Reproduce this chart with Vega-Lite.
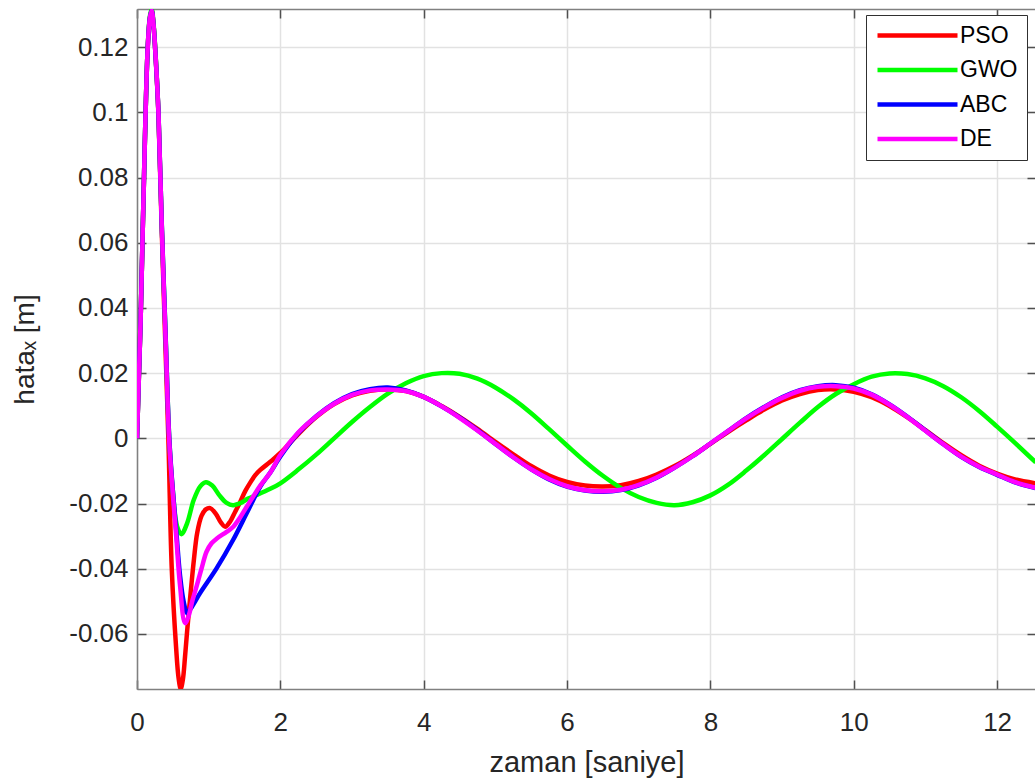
{
  "$schema": "https://vega.github.io/schema/vega-lite/v6.json",
  "autosize": "none",
  "width": 899,
  "height": 680,
  "padding": {"left": 137, "top": 9, "right": 0, "bottom": 95},
  "background": "white",
  "view": {"stroke": null},
  "datasets": {
    "d": [
      {"zaman":0,"hata":0,"yontem":"PSO"},{"zaman":0.025,"hata":0.018,"yontem":"PSO"},{"zaman":0.05,"hata":0.036,"yontem":"PSO"},{"zaman":0.08,"hata":0.064,"yontem":"PSO"},{"zaman":0.1,"hata":0.082,"yontem":"PSO"},{"zaman":0.12,"hata":0.1,"yontem":"PSO"},{"zaman":0.15,"hata":0.12,"yontem":"PSO"},{"zaman":0.18,"hata":0.129,"yontem":"PSO"},{"zaman":0.205,"hata":0.1312,"yontem":"PSO"},{"zaman":0.23,"hata":0.127,"yontem":"PSO"},{"zaman":0.26,"hata":0.117,"yontem":"PSO"},{"zaman":0.3,"hata":0.099,"yontem":"PSO"},{"zaman":0.345,"hata":0.064,"yontem":"PSO"},{"zaman":0.4,"hata":0.026,"yontem":"PSO"},{"zaman":0.44,"hata":-0.002,"yontem":"PSO"},{"zaman":0.485,"hata":-0.04,"yontem":"PSO"},{"zaman":0.545,"hata":-0.064,"yontem":"PSO"},{"zaman":0.58,"hata":-0.0735,"yontem":"PSO"},{"zaman":0.61,"hata":-0.0768,"yontem":"PSO"},{"zaman":0.64,"hata":-0.074,"yontem":"PSO"},{"zaman":0.67,"hata":-0.067,"yontem":"PSO"},{"zaman":0.7,"hata":-0.059,"yontem":"PSO"},{"zaman":0.75,"hata":-0.047,"yontem":"PSO"},{"zaman":0.795,"hata":-0.037,"yontem":"PSO"},{"zaman":0.84,"hata":-0.029,"yontem":"PSO"},{"zaman":0.9,"hata":-0.0238,"yontem":"PSO"},{"zaman":0.96,"hata":-0.0218,"yontem":"PSO"},{"zaman":1.02,"hata":-0.0214,"yontem":"PSO"},{"zaman":1.1,"hata":-0.0232,"yontem":"PSO"},{"zaman":1.17,"hata":-0.0258,"yontem":"PSO"},{"zaman":1.23,"hata":-0.0271,"yontem":"PSO"},{"zaman":1.3,"hata":-0.0255,"yontem":"PSO"},{"zaman":1.37,"hata":-0.0225,"yontem":"PSO"},{"zaman":1.44,"hata":-0.0195,"yontem":"PSO"},{"zaman":1.51,"hata":-0.0162,"yontem":"PSO"},{"zaman":1.58,"hata":-0.0136,"yontem":"PSO"},{"zaman":1.65,"hata":-0.0113,"yontem":"PSO"},{"zaman":1.72,"hata":-0.0097,"yontem":"PSO"},{"zaman":1.86,"hata":-0.0072,"yontem":"PSO"},{"zaman":2.0,"hata":-0.0045,"yontem":"PSO"},{"zaman":2.25,"hata":0.0013,"yontem":"PSO"},{"zaman":2.5,"hata":0.0065,"yontem":"PSO"},{"zaman":2.75,"hata":0.0105,"yontem":"PSO"},{"zaman":3.0,"hata":0.0132,"yontem":"PSO"},{"zaman":3.25,"hata":0.0146,"yontem":"PSO"},{"zaman":3.5,"hata":0.015,"yontem":"PSO"},{"zaman":3.75,"hata":0.0145,"yontem":"PSO"},{"zaman":4.0,"hata":0.0127,"yontem":"PSO"},{"zaman":4.25,"hata":0.0099,"yontem":"PSO"},{"zaman":4.5,"hata":0.0066,"yontem":"PSO"},{"zaman":4.75,"hata":0.0029,"yontem":"PSO"},{"zaman":5.0,"hata":-0.0011,"yontem":"PSO"},{"zaman":5.25,"hata":-0.0049,"yontem":"PSO"},{"zaman":5.5,"hata":-0.0085,"yontem":"PSO"},{"zaman":5.75,"hata":-0.0114,"yontem":"PSO"},{"zaman":6.0,"hata":-0.0134,"yontem":"PSO"},{"zaman":6.25,"hata":-0.0145,"yontem":"PSO"},{"zaman":6.5,"hata":-0.0148,"yontem":"PSO"},{"zaman":6.75,"hata":-0.0144,"yontem":"PSO"},{"zaman":7.0,"hata":-0.0131,"yontem":"PSO"},{"zaman":7.25,"hata":-0.0111,"yontem":"PSO"},{"zaman":7.5,"hata":-0.0085,"yontem":"PSO"},{"zaman":7.75,"hata":-0.0053,"yontem":"PSO"},{"zaman":8.0,"hata":-0.0017,"yontem":"PSO"},{"zaman":8.25,"hata":0.002,"yontem":"PSO"},{"zaman":8.5,"hata":0.0055,"yontem":"PSO"},{"zaman":8.75,"hata":0.0088,"yontem":"PSO"},{"zaman":9.0,"hata":0.0116,"yontem":"PSO"},{"zaman":9.25,"hata":0.0136,"yontem":"PSO"},{"zaman":9.5,"hata":0.0148,"yontem":"PSO"},{"zaman":9.75,"hata":0.015,"yontem":"PSO"},{"zaman":10.0,"hata":0.0143,"yontem":"PSO"},{"zaman":10.25,"hata":0.0126,"yontem":"PSO"},{"zaman":10.5,"hata":0.0099,"yontem":"PSO"},{"zaman":10.75,"hata":0.0064,"yontem":"PSO"},{"zaman":11.0,"hata":0.0025,"yontem":"PSO"},{"zaman":11.25,"hata":-0.0015,"yontem":"PSO"},{"zaman":11.5,"hata":-0.0052,"yontem":"PSO"},{"zaman":11.75,"hata":-0.0084,"yontem":"PSO"},{"zaman":12.0,"hata":-0.0108,"yontem":"PSO"},{"zaman":12.25,"hata":-0.0126,"yontem":"PSO"},{"zaman":12.54,"hata":-0.0138,"yontem":"PSO"},

      {"zaman":0,"hata":0,"yontem":"GWO"},{"zaman":0.025,"hata":0.018,"yontem":"GWO"},{"zaman":0.05,"hata":0.036,"yontem":"GWO"},{"zaman":0.08,"hata":0.064,"yontem":"GWO"},{"zaman":0.1,"hata":0.082,"yontem":"GWO"},{"zaman":0.12,"hata":0.1,"yontem":"GWO"},{"zaman":0.15,"hata":0.12,"yontem":"GWO"},{"zaman":0.18,"hata":0.1295,"yontem":"GWO"},{"zaman":0.205,"hata":0.1318,"yontem":"GWO"},{"zaman":0.23,"hata":0.1275,"yontem":"GWO"},{"zaman":0.26,"hata":0.1175,"yontem":"GWO"},{"zaman":0.3,"hata":0.0995,"yontem":"GWO"},{"zaman":0.345,"hata":0.066,"yontem":"GWO"},{"zaman":0.4,"hata":0.031,"yontem":"GWO"},{"zaman":0.45,"hata":0.0,"yontem":"GWO"},{"zaman":0.5,"hata":-0.016,"yontem":"GWO"},{"zaman":0.56,"hata":-0.027,"yontem":"GWO"},{"zaman":0.62,"hata":-0.0294,"yontem":"GWO"},{"zaman":0.7,"hata":-0.026,"yontem":"GWO"},{"zaman":0.79,"hata":-0.019,"yontem":"GWO"},{"zaman":0.88,"hata":-0.0148,"yontem":"GWO"},{"zaman":0.96,"hata":-0.0135,"yontem":"GWO"},{"zaman":1.05,"hata":-0.0145,"yontem":"GWO"},{"zaman":1.15,"hata":-0.0175,"yontem":"GWO"},{"zaman":1.25,"hata":-0.0198,"yontem":"GWO"},{"zaman":1.34,"hata":-0.0205,"yontem":"GWO"},{"zaman":1.45,"hata":-0.0198,"yontem":"GWO"},{"zaman":1.55,"hata":-0.0185,"yontem":"GWO"},{"zaman":1.67,"hata":-0.0174,"yontem":"GWO"},{"zaman":1.86,"hata":-0.0155,"yontem":"GWO"},{"zaman":2.0,"hata":-0.0138,"yontem":"GWO"},{"zaman":2.25,"hata":-0.0096,"yontem":"GWO"},{"zaman":2.5,"hata":-0.005,"yontem":"GWO"},{"zaman":2.75,"hata":0.0,"yontem":"GWO"},{"zaman":3.0,"hata":0.005,"yontem":"GWO"},{"zaman":3.25,"hata":0.0096,"yontem":"GWO"},{"zaman":3.5,"hata":0.0137,"yontem":"GWO"},{"zaman":3.75,"hata":0.0169,"yontem":"GWO"},{"zaman":4.0,"hata":0.0191,"yontem":"GWO"},{"zaman":4.25,"hata":0.02,"yontem":"GWO"},{"zaman":4.5,"hata":0.0198,"yontem":"GWO"},{"zaman":4.75,"hata":0.0183,"yontem":"GWO"},{"zaman":5.0,"hata":0.0156,"yontem":"GWO"},{"zaman":5.25,"hata":0.012,"yontem":"GWO"},{"zaman":5.5,"hata":0.0077,"yontem":"GWO"},{"zaman":5.75,"hata":0.0028,"yontem":"GWO"},{"zaman":6.0,"hata":-0.0022,"yontem":"GWO"},{"zaman":6.25,"hata":-0.0071,"yontem":"GWO"},{"zaman":6.5,"hata":-0.0115,"yontem":"GWO"},{"zaman":6.75,"hata":-0.0152,"yontem":"GWO"},{"zaman":7.0,"hata":-0.018,"yontem":"GWO"},{"zaman":7.25,"hata":-0.0198,"yontem":"GWO"},{"zaman":7.5,"hata":-0.0205,"yontem":"GWO"},{"zaman":7.75,"hata":-0.0196,"yontem":"GWO"},{"zaman":8.0,"hata":-0.0175,"yontem":"GWO"},{"zaman":8.25,"hata":-0.0142,"yontem":"GWO"},{"zaman":8.5,"hata":-0.0099,"yontem":"GWO"},{"zaman":8.75,"hata":-0.0052,"yontem":"GWO"},{"zaman":9.0,"hata":-0.0002,"yontem":"GWO"},{"zaman":9.25,"hata":0.0048,"yontem":"GWO"},{"zaman":9.5,"hata":0.0096,"yontem":"GWO"},{"zaman":9.75,"hata":0.0136,"yontem":"GWO"},{"zaman":10.0,"hata":0.0166,"yontem":"GWO"},{"zaman":10.25,"hata":0.0189,"yontem":"GWO"},{"zaman":10.5,"hata":0.0199,"yontem":"GWO"},{"zaman":10.75,"hata":0.0197,"yontem":"GWO"},{"zaman":11.0,"hata":0.0184,"yontem":"GWO"},{"zaman":11.25,"hata":0.016,"yontem":"GWO"},{"zaman":11.5,"hata":0.0126,"yontem":"GWO"},{"zaman":11.75,"hata":0.0084,"yontem":"GWO"},{"zaman":12.0,"hata":0.0036,"yontem":"GWO"},{"zaman":12.25,"hata":-0.0014,"yontem":"GWO"},{"zaman":12.54,"hata":-0.0074,"yontem":"GWO"},

      {"zaman":0,"hata":0,"yontem":"ABC"},{"zaman":0.025,"hata":0.018,"yontem":"ABC"},{"zaman":0.05,"hata":0.036,"yontem":"ABC"},{"zaman":0.08,"hata":0.064,"yontem":"ABC"},{"zaman":0.1,"hata":0.082,"yontem":"ABC"},{"zaman":0.12,"hata":0.1,"yontem":"ABC"},{"zaman":0.15,"hata":0.12,"yontem":"ABC"},{"zaman":0.18,"hata":0.129,"yontem":"ABC"},{"zaman":0.205,"hata":0.1312,"yontem":"ABC"},{"zaman":0.23,"hata":0.127,"yontem":"ABC"},{"zaman":0.26,"hata":0.117,"yontem":"ABC"},{"zaman":0.3,"hata":0.0995,"yontem":"ABC"},{"zaman":0.345,"hata":0.066,"yontem":"ABC"},{"zaman":0.4,"hata":0.031,"yontem":"ABC"},{"zaman":0.45,"hata":0.0,"yontem":"ABC"},{"zaman":0.5,"hata":-0.016,"yontem":"ABC"},{"zaman":0.55,"hata":-0.029,"yontem":"ABC"},{"zaman":0.6,"hata":-0.042,"yontem":"ABC"},{"zaman":0.65,"hata":-0.05,"yontem":"ABC"},{"zaman":0.7,"hata":-0.0536,"yontem":"ABC"},{"zaman":0.75,"hata":-0.0522,"yontem":"ABC"},{"zaman":0.88,"hata":-0.0475,"yontem":"ABC"},{"zaman":1.11,"hata":-0.0399,"yontem":"ABC"},{"zaman":1.34,"hata":-0.0312,"yontem":"ABC"},{"zaman":1.53,"hata":-0.023,"yontem":"ABC"},{"zaman":1.72,"hata":-0.0148,"yontem":"ABC"},{"zaman":1.86,"hata":-0.0105,"yontem":"ABC"},{"zaman":2.0,"hata":-0.0056,"yontem":"ABC"},{"zaman":2.25,"hata":0.0016,"yontem":"ABC"},{"zaman":2.5,"hata":0.0068,"yontem":"ABC"},{"zaman":2.75,"hata":0.0108,"yontem":"ABC"},{"zaman":3.0,"hata":0.0136,"yontem":"ABC"},{"zaman":3.25,"hata":0.0151,"yontem":"ABC"},{"zaman":3.5,"hata":0.0156,"yontem":"ABC"},{"zaman":3.75,"hata":0.0147,"yontem":"ABC"},{"zaman":4.0,"hata":0.0127,"yontem":"ABC"},{"zaman":4.25,"hata":0.0098,"yontem":"ABC"},{"zaman":4.5,"hata":0.0064,"yontem":"ABC"},{"zaman":4.75,"hata":0.0025,"yontem":"ABC"},{"zaman":5.0,"hata":-0.0017,"yontem":"ABC"},{"zaman":5.25,"hata":-0.0058,"yontem":"ABC"},{"zaman":5.5,"hata":-0.0095,"yontem":"ABC"},{"zaman":5.75,"hata":-0.0126,"yontem":"ABC"},{"zaman":6.0,"hata":-0.0148,"yontem":"ABC"},{"zaman":6.25,"hata":-0.016,"yontem":"ABC"},{"zaman":6.5,"hata":-0.0164,"yontem":"ABC"},{"zaman":6.75,"hata":-0.0159,"yontem":"ABC"},{"zaman":7.0,"hata":-0.0144,"yontem":"ABC"},{"zaman":7.25,"hata":-0.0121,"yontem":"ABC"},{"zaman":7.5,"hata":-0.009,"yontem":"ABC"},{"zaman":7.75,"hata":-0.0055,"yontem":"ABC"},{"zaman":8.0,"hata":-0.0016,"yontem":"ABC"},{"zaman":8.25,"hata":0.0023,"yontem":"ABC"},{"zaman":8.5,"hata":0.0062,"yontem":"ABC"},{"zaman":8.75,"hata":0.0096,"yontem":"ABC"},{"zaman":9.0,"hata":0.0126,"yontem":"ABC"},{"zaman":9.25,"hata":0.0148,"yontem":"ABC"},{"zaman":9.5,"hata":0.016,"yontem":"ABC"},{"zaman":9.75,"hata":0.0163,"yontem":"ABC"},{"zaman":10.0,"hata":0.0155,"yontem":"ABC"},{"zaman":10.25,"hata":0.0135,"yontem":"ABC"},{"zaman":10.5,"hata":0.0104,"yontem":"ABC"},{"zaman":10.75,"hata":0.0066,"yontem":"ABC"},{"zaman":11.0,"hata":0.0024,"yontem":"ABC"},{"zaman":11.25,"hata":-0.0018,"yontem":"ABC"},{"zaman":11.5,"hata":-0.0057,"yontem":"ABC"},{"zaman":11.75,"hata":-0.0088,"yontem":"ABC"},{"zaman":12.0,"hata":-0.0112,"yontem":"ABC"},{"zaman":12.25,"hata":-0.0135,"yontem":"ABC"},{"zaman":12.54,"hata":-0.0153,"yontem":"ABC"},

      {"zaman":0,"hata":0,"yontem":"DE"},{"zaman":0.025,"hata":0.018,"yontem":"DE"},{"zaman":0.05,"hata":0.036,"yontem":"DE"},{"zaman":0.08,"hata":0.064,"yontem":"DE"},{"zaman":0.1,"hata":0.082,"yontem":"DE"},{"zaman":0.12,"hata":0.1,"yontem":"DE"},{"zaman":0.15,"hata":0.12,"yontem":"DE"},{"zaman":0.18,"hata":0.129,"yontem":"DE"},{"zaman":0.205,"hata":0.1312,"yontem":"DE"},{"zaman":0.23,"hata":0.127,"yontem":"DE"},{"zaman":0.26,"hata":0.117,"yontem":"DE"},{"zaman":0.3,"hata":0.0995,"yontem":"DE"},{"zaman":0.345,"hata":0.0655,"yontem":"DE"},{"zaman":0.4,"hata":0.03,"yontem":"DE"},{"zaman":0.45,"hata":-0.001,"yontem":"DE"},{"zaman":0.5,"hata":-0.017,"yontem":"DE"},{"zaman":0.55,"hata":-0.031,"yontem":"DE"},{"zaman":0.6,"hata":-0.045,"yontem":"DE"},{"zaman":0.67,"hata":-0.0567,"yontem":"DE"},{"zaman":0.72,"hata":-0.0545,"yontem":"DE"},{"zaman":0.77,"hata":-0.05,"yontem":"DE"},{"zaman":0.83,"hata":-0.0455,"yontem":"DE"},{"zaman":0.9,"hata":-0.04,"yontem":"DE"},{"zaman":0.97,"hata":-0.0348,"yontem":"DE"},{"zaman":1.04,"hata":-0.0322,"yontem":"DE"},{"zaman":1.11,"hata":-0.0308,"yontem":"DE"},{"zaman":1.25,"hata":-0.0287,"yontem":"DE"},{"zaman":1.34,"hata":-0.0272,"yontem":"DE"},{"zaman":1.44,"hata":-0.0242,"yontem":"DE"},{"zaman":1.53,"hata":-0.021,"yontem":"DE"},{"zaman":1.72,"hata":-0.0145,"yontem":"DE"},{"zaman":1.86,"hata":-0.0105,"yontem":"DE"},{"zaman":2.0,"hata":-0.0051,"yontem":"DE"},{"zaman":2.25,"hata":0.0018,"yontem":"DE"},{"zaman":2.5,"hata":0.0067,"yontem":"DE"},{"zaman":2.75,"hata":0.0106,"yontem":"DE"},{"zaman":3.0,"hata":0.0133,"yontem":"DE"},{"zaman":3.25,"hata":0.0147,"yontem":"DE"},{"zaman":3.5,"hata":0.015,"yontem":"DE"},{"zaman":3.75,"hata":0.0145,"yontem":"DE"},{"zaman":4.0,"hata":0.0127,"yontem":"DE"},{"zaman":4.25,"hata":0.0098,"yontem":"DE"},{"zaman":4.5,"hata":0.0063,"yontem":"DE"},{"zaman":4.75,"hata":0.0024,"yontem":"DE"},{"zaman":5.0,"hata":-0.0017,"yontem":"DE"},{"zaman":5.25,"hata":-0.0058,"yontem":"DE"},{"zaman":5.5,"hata":-0.0095,"yontem":"DE"},{"zaman":5.75,"hata":-0.0125,"yontem":"DE"},{"zaman":6.0,"hata":-0.0147,"yontem":"DE"},{"zaman":6.25,"hata":-0.0159,"yontem":"DE"},{"zaman":6.5,"hata":-0.0162,"yontem":"DE"},{"zaman":6.75,"hata":-0.0158,"yontem":"DE"},{"zaman":7.0,"hata":-0.0143,"yontem":"DE"},{"zaman":7.25,"hata":-0.012,"yontem":"DE"},{"zaman":7.5,"hata":-0.009,"yontem":"DE"},{"zaman":7.75,"hata":-0.0055,"yontem":"DE"},{"zaman":8.0,"hata":-0.0016,"yontem":"DE"},{"zaman":8.25,"hata":0.0023,"yontem":"DE"},{"zaman":8.5,"hata":0.0061,"yontem":"DE"},{"zaman":8.75,"hata":0.0095,"yontem":"DE"},{"zaman":9.0,"hata":0.0124,"yontem":"DE"},{"zaman":9.25,"hata":0.0146,"yontem":"DE"},{"zaman":9.5,"hata":0.0158,"yontem":"DE"},{"zaman":9.75,"hata":0.016,"yontem":"DE"},{"zaman":10.0,"hata":0.0153,"yontem":"DE"},{"zaman":10.25,"hata":0.0134,"yontem":"DE"},{"zaman":10.5,"hata":0.0103,"yontem":"DE"},{"zaman":10.75,"hata":0.0065,"yontem":"DE"},{"zaman":11.0,"hata":0.0023,"yontem":"DE"},{"zaman":11.25,"hata":-0.0018,"yontem":"DE"},{"zaman":11.5,"hata":-0.0056,"yontem":"DE"},{"zaman":11.75,"hata":-0.0087,"yontem":"DE"},{"zaman":12.0,"hata":-0.0111,"yontem":"DE"},{"zaman":12.25,"hata":-0.0134,"yontem":"DE"},{"zaman":12.54,"hata":-0.0152,"yontem":"DE"}
    ]
  },
  "data": {"name": "d"},
  "layer": [
    {
      "mark": {"type": "line", "strokeWidth": 4.5, "interpolate": "catmull-rom", "clip": true},
      "encoding": {
        "x": {
          "field": "zaman", "type": "quantitative",
          "scale": {"domain": [0, 12.543], "nice": false, "zero": false},
          "axis": {
            "orient": "bottom", "title": "zaman [saniye]",
            "values": [0, 2, 4, 6, 8, 10, 12],
            "labelPadding": 29, "labelFlush": false, "grid": true,
            "titleFontSize": 29,
            "titleX": 449.5, "titleY": 82.5, "titleBaseline": "alphabetic", "titleAlign": "center"
          }
        },
        "y": {
          "field": "hata", "type": "quantitative",
          "scale": {"domain": [-0.0769, 0.1317], "nice": false, "zero": false},
          "axis": {
            "orient": "left", "title": "hataₓ [m]",
            "values": [-0.06, -0.04, -0.02, 0, 0.02, 0.04, 0.06, 0.08, 0.1, 0.12],
            "labelExpr": "datum.value < 0 ? '-' + format(-datum.value, '.2~f') : format(datum.value, '.2~f')",
            "labelPadding": 18, "labelFlush": false, "grid": true,
            "titleFontSize": 28,
            "titleAngle": 270, "titleX": -103.5, "titleY": 340, "titleBaseline": "alphabetic", "titleAlign": "center"
          }
        },
        "color": {
          "field": "yontem", "type": "nominal",
          "scale": {"domain": ["PSO", "GWO", "ABC", "DE"], "range": ["#ff0000", "#00ff00", "#0000ff", "#ff00ff"]},
          "legend": {
            "orient": "none", "legendX": 729, "legendY": 6, "title": null,
            "symbolType": "stroke", "symbolSize": 6400, "symbolStrokeWidth": 4.5,
            "clipHeight": 23, "labelFontSize": 23, "labelFont": "Liberation Sans", "labelColor": "#000000",
            "labelOffset": 0, "padding": 9, "rowPadding": 10.5,
            "strokeColor": "#303030", "fillColor": "#ffffff", "labelBaseline": "middle"
          }
        },
        "order": {"field": "zaman", "type": "quantitative"}
      }
    },
    {
      "mark": {"type": "point", "opacity": 0, "size": 0},
      "encoding": {
        "x": {
          "field": "zaman", "type": "quantitative",
          "axis": {"orient": "top", "title": null, "labels": false, "grid": false, "values": [0, 2, 4, 6, 8, 10, 12]}
        },
        "y": {
          "field": "hata", "type": "quantitative",
          "axis": {"orient": "right", "title": null, "labels": false, "grid": false, "values": [-0.06, -0.04, -0.02, 0, 0.02, 0.04, 0.06, 0.08, 0.1, 0.12]}
        }
      }
    }
  ],
  "resolve": {"axis": {"x": "independent", "y": "independent"}},
  "config": {
    "axis": {
      "labelFont": "Liberation Sans", "labelFontSize": 26, "labelColor": "#262626",
      "titleFont": "Liberation Sans", "titleFontSize": 27, "titleFontWeight": "normal", "titleColor": "#262626",
      "domainColor": "#808080", "domainWidth": 1.5,
      "tickColor": "#505050", "tickWidth": 1.5, "tickSize": -9,
      "gridColor": "#e2e2e2", "gridWidth": 1.5
    }
  }
}
